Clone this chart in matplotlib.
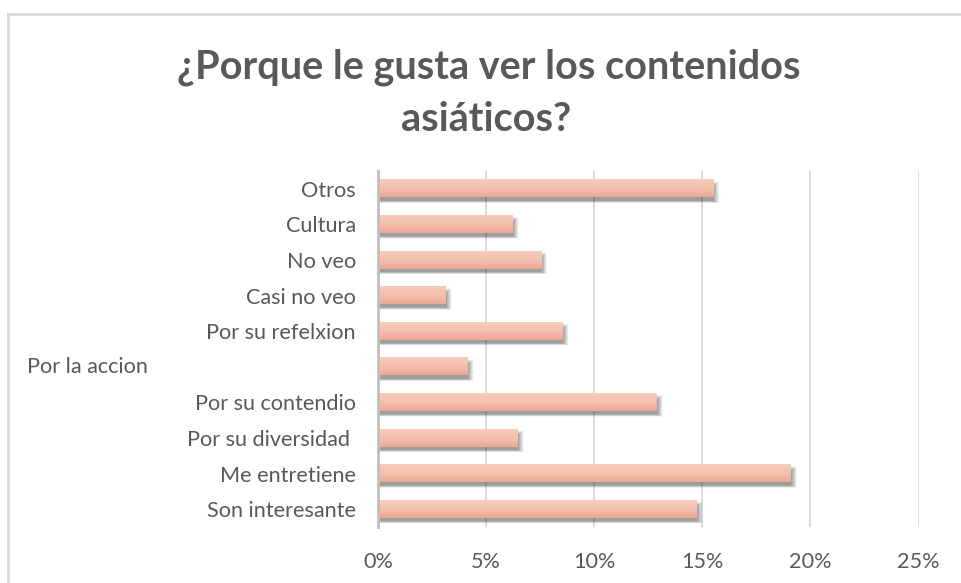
import matplotlib
matplotlib.use("Agg")
import matplotlib.pyplot as plt
import numpy as np
from matplotlib.ticker import FuncFormatter
from matplotlib.colors import LinearSegmentedColormap
import matplotlib.transforms as mtrans

categories = ["Son interesante", "Me entretiene", "Por su diversidad ", "Por su contendio",
              "Por la accion", "Por su refelxion", "Casi no veo", "No veo", "Cultura", "Otros"]
values = [0.1475, 0.191, 0.0646, 0.129, 0.0415, 0.0854, 0.0313, 0.0754, 0.0623, 0.155]
xticks = [0, 0.05, 0.10, 0.15, 0.20, 0.25]
title_lines = ["¿Porque le gusta ver los contenidos", "asiáticos?"]

TXT = "#595959"
FONT = "Lato"
LS = 15.6

W, H = 961, 583
fig = plt.figure(figsize=(W / 100, H / 100), dpi=100)
fig.patch.set_facecolor("white")

# chart frame (light gray border, top & left visible)
fig.add_artist(plt.Line2D([8 / W, 8 / W], [0, 1 - 14 / H], transform=fig.transFigure,
                          color="#D9D9D9", lw=2))
fig.add_artist(plt.Line2D([8 / W, 1], [1 - 14 / H, 1 - 14 / H], transform=fig.transFigure,
                          color="#D9D9D9", lw=2))

ax = fig.add_axes([378 / W, 56 / H, 540.5 / W, 356 / H])
y = np.arange(len(categories))
h = 0.48
vals = np.array(values)

# soft blurred shadow below/right of each bar
n = 14
for k in range(n):
    t = k / (n - 1)
    dy = 0.10 + 0.02 * t
    dx = 0.0012
    grow = 0.18 * (1 - t)
    xg = 0.0025 * (1 - t)
    ax.barh(y - dy, vals + dx + xg, height=h + grow - 0.06, left=-0.001, color="black",
            alpha=0.03, linewidth=0, zorder=2)

# gradient bars
grad = np.linspace(0, 1, 64).reshape(-1, 1)
cmap = LinearSegmentedColormap.from_list("g", ["#F8CCBC", "#F5C0AE", "#EAA892"])
bars = ax.barh(y, values, height=h, color="#F3BCA9", linewidth=0, zorder=3)
for b in bars:
    x0, y0 = b.get_x(), b.get_y()
    w, hh = b.get_width(), b.get_height()
    ax.imshow(grad, extent=[x0, x0 + w, y0, y0 + hh], cmap=cmap, aspect="auto",
              zorder=4, interpolation="bicubic")

ax.set_xlim(0, 0.25)
ax.set_ylim(-0.5, len(categories) - 0.5)
ax.set_xticks(xticks)
ax.xaxis.set_major_formatter(FuncFormatter(lambda v, p: f"{v*100:.0f}%"))
ax.grid(axis="x", color="#D9D9D9", lw=1.3, zorder=0)
ax.set_axisbelow(True)
for s in ["top", "right", "bottom"]:
    ax.spines[s].set_visible(False)
ax.spines["left"].set_color("#BFBFBF")
ax.spines["left"].set_linewidth(2)
ax.spines["left"].set_zorder(5)
ax.tick_params(axis="both", length=0, colors=TXT, labelsize=LS)
ax.tick_params(axis="x", pad=18)
ax.tick_params(axis="y", pad=16)
ax.set_yticks(y)
labels = [c if c != "Por la accion" else "" for c in categories]
ax.set_yticklabels(labels, fontfamily=FONT)
for lab in ax.get_xticklabels():
    lab.set_fontfamily(FONT)

# label that sits at the left edge of the chart
idx = categories.index("Por la accion")
ax.text(27 / W, idx, "Por la accion",
        transform=mtrans.blended_transform_factory(fig.transFigure, ax.transData),
        ha="left", va="center", color=TXT, fontsize=LS, fontfamily=FONT)

fig.text(489 / W, 1 - 78 / H, title_lines[0], ha="center", va="baseline", color=TXT,
         fontsize=28.5, fontweight="bold", fontfamily=FONT)
fig.text(486 / W, 1 - 131 / H, title_lines[1], ha="center", va="baseline", color=TXT,
         fontsize=28.5, fontweight="bold", fontfamily=FONT)

fig.savefig("out.png", dpi=100, facecolor="white")
